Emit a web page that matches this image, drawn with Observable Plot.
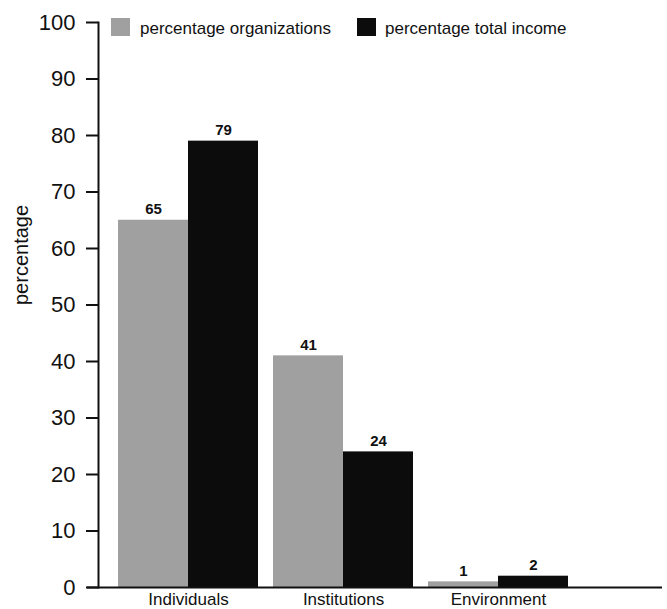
<!DOCTYPE html>
<html>
<head>
<meta charset="utf-8">
<script src="https://cdn.jsdelivr.net/npm/d3@7"></script>
<script src="https://cdn.jsdelivr.net/npm/@observablehq/plot@0.6"></script>
<style>
  html, body { margin: 0; padding: 0; background: #fff; }
  #wrap { position: relative; width: 667px; height: 609px; font-family: "Liberation Sans", Arial, Helvetica, sans-serif; }
  #legend .sw { position: absolute; top: 18px; width: 19px; height: 18px; }
  #legend .lb { position: absolute; top: 19px; font-size: 17px; line-height: 20px; color: #111; white-space: nowrap; }
</style>
</head>
<body>
<div id="wrap"><div id="legend"></div></div>
<script>
const categories = ["Individuals", "Institutions", "Environment"];
const orgPct = [65, 41, 1];
const incomePct = [79, 24, 2];
const seriesNames = ["percentage organizations", "percentage total income"];
const seriesColors = ["#a0a0a0", "#0c0c0c"];
const yTicks = [0, 10, 20, 30, 40, 50, 60, 70, 80, 90, 100];
const yLabel = "percentage";

const data = categories.map((c, i) => ({category: c, org: orgPct[i], income: incomePct[i]}));

const chart = Plot.plot({
  width: 667,
  height: 609,
  marginLeft: 98,
  marginRight: 5,
  marginTop: 22,
  marginBottom: 22,
  style: {fontFamily: '"Liberation Sans", Arial, Helvetica, sans-serif', color: "#111", background: "#fff"},
  x: {domain: categories, range: [118, 568], paddingInner: 15 / 155, paddingOuter: 0, label: null},
  y: {domain: [0, 100], label: null},
  marks: [
    Plot.barY(data, {x: "category", y: "org", fill: seriesColors[0], insetRight: 70}),
    Plot.barY(data, {x: "category", y: "income", fill: seriesColors[1], insetLeft: 70}),
    Plot.text(data, {x: "category", y: "org", text: d => String(d.org), dx: -35, dy: -6, lineAnchor: "bottom", fontSize: 15, fontWeight: 600, fill: "#111"}),
    Plot.text(data, {x: "category", y: "income", text: d => String(d.income), dx: 35, dy: -6, lineAnchor: "bottom", fontSize: 15, fontWeight: 600, fill: "#111"}),
    Plot.frame({anchor: "left", stroke: "#111", strokeWidth: 2}),
    Plot.ruleY([0], {insetLeft: -11, stroke: "#111", strokeWidth: 2}),
    Plot.axisY({ticks: yTicks, tickSize: 12, tickPadding: 11, fontSize: 22, label: null, strokeWidth: 2, stroke: "#111"}),
    Plot.axisX({tickSize: 0, tickPadding: 5, fontSize: 17, label: null}),
    Plot.text([yLabel], {frameAnchor: "left", rotate: -90, dx: -77, fontSize: 20, fill: "#111"})
  ]
});

const wrap = document.getElementById("wrap");
wrap.insertBefore(chart, wrap.firstChild);

const legend = document.getElementById("legend");
const swatchX = [111, 357];
const labelX = [140, 385];
seriesNames.forEach((name, i) => {
  const sw = document.createElement("div");
  sw.className = "sw";
  sw.style.left = swatchX[i] + "px";
  sw.style.background = seriesColors[i];
  legend.appendChild(sw);
  const lb = document.createElement("div");
  lb.className = "lb";
  lb.style.left = labelX[i] + "px";
  lb.textContent = name;
  legend.appendChild(lb);
});
</script>
</body>
</html>
